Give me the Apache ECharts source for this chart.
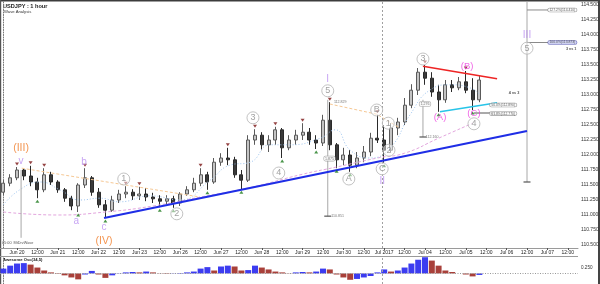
<!DOCTYPE html>
<html>
<head>
<meta charset="utf-8">
<script src="https://cdn.jsdelivr.net/npm/echarts@6/dist/echarts.min.js"></script>
<style>
html, body { margin: 0; padding: 0; background: #fff; }
#chart { width: 600px; height: 284px; }
</style>
</head>
<body>
<div id="chart"></div>
<script>
// time axis: 4-hour slots, 6 per trading day
const days = ['Jun 20', 'Jun 21', 'Jun 22', 'Jun 23', 'Jun 26', 'Jun 27', 'Jun 28', 'Jun 29', 'Jun 30', 'Jul 2017', 'Jul 04', 'Jul 05', 'Jul 06', 'Jul 07'];
const slotCount = 85;
const firstDaySlot = 2;

// USDJPY 4h bars: [open, close, low, high]
const candles = [
  [111.38, 111.53, 111.33, 111.58], [111.53, 111.62, 111.48, 111.68], [111.62, 111.75, 111.58, 111.80],
  [111.75, 111.65, 111.58, 111.78], [111.65, 111.55, 111.48, 111.82], [111.55, 111.42, 111.28, 111.62],
  [111.42, 111.67, 111.38, 111.78], [111.67, 111.55, 111.50, 111.72], [111.55, 111.42, 111.37, 111.58],
  [111.42, 111.28, 111.22, 111.45], [111.28, 111.15, 111.08, 111.32], [111.15, 111.50, 111.05, 111.53],
  [111.50, 111.62, 111.45, 111.78], [111.62, 111.38, 111.32, 111.65], [111.38, 111.17, 111.12, 111.45],
  [111.17, 111.08, 110.95, 111.25], [111.08, 111.25, 111.05, 111.32], [111.25, 111.35, 111.20, 111.42],
  [111.35, 111.38, 111.28, 111.48], [111.38, 111.32, 111.25, 111.43], [111.32, 111.35, 111.25, 111.47],
  [111.35, 111.30, 111.23, 111.45], [111.30, 111.27, 111.20, 111.37], [111.27, 111.23, 111.13, 111.33],
  [111.23, 111.27, 111.18, 111.33], [111.27, 111.20, 111.12, 111.32], [111.20, 111.35, 111.15, 111.38],
  [111.35, 111.42, 111.32, 111.48], [111.42, 111.53, 111.38, 111.62], [111.53, 111.67, 111.48, 111.78],
  [111.67, 111.55, 111.42, 111.72], [111.55, 111.88, 111.52, 111.95], [111.88, 111.95, 111.82, 112.03],
  [111.95, 111.92, 111.83, 112.12], [111.92, 111.67, 111.62, 111.97], [111.67, 111.58, 111.43, 111.75],
  [111.58, 112.25, 111.55, 112.33], [112.25, 112.33, 112.17, 112.43], [112.33, 112.17, 112.08, 112.38],
  [112.17, 112.25, 112.05, 112.33], [112.25, 112.42, 112.17, 112.47], [112.42, 112.12, 111.95, 112.45],
  [112.12, 112.25, 112.08, 112.33], [112.25, 112.33, 112.17, 112.42], [112.33, 112.38, 112.25, 112.53],
  [112.38, 112.25, 112.17, 112.45], [112.25, 112.20, 112.10, 112.33], [112.20, 112.58, 112.15, 112.67],
  [112.58, 112.17, 112.08, 112.88], [112.17, 111.92, 111.78, 112.20], [111.92, 112.00, 111.83, 112.12],
  [112.00, 111.83, 111.72, 112.08], [111.83, 111.95, 111.78, 112.05], [111.95, 112.05, 111.88, 112.15],
  [112.05, 112.28, 111.98, 112.37], [112.28, 112.25, 112.20, 112.67], [112.25, 112.08, 111.87, 112.50],
  [112.08, 112.45, 112.05, 112.53], [112.45, 112.55, 112.33, 112.62], [112.55, 112.83, 112.50, 112.95],
  [112.83, 113.08, 112.78, 113.18], [113.08, 113.38, 113.00, 113.45], [113.38, 113.28, 113.17, 113.50],
  [113.28, 113.05, 112.97, 113.38], [113.05, 112.92, 112.72, 113.17], [112.92, 113.17, 112.87, 113.25],
  [113.17, 113.12, 113.05, 113.25], [113.12, 113.22, 113.08, 113.30], [113.22, 113.08, 113.03, 113.40],
  [113.08, 112.92, 112.75, 113.28], [112.92, 113.25, 112.88, 113.32]
];

// Awesome Osc(34,5), one value per slot
const ao = [
  0.23, 0.37, 0.47, 0.49, 0.42, 0.28, 0.14, 0.05, -0.02, -0.09,
  -0.19, -0.28, -0.05, 0.12, -0.05, -0.21, -0.09, 0.01, 0.05, 0.07,
  0.05, 0.09, 0.05, 0.01, -0.02, 0.01, 0.02, 0.05, 0.09, 0.23,
  0.30, 0.14, 0.33, 0.37, 0.33, 0.14, 0.16, 0.37, 0.28, 0.19,
  0.09, 0.05, 0.01, 0.05, 0.07, 0.05, 0.09, 0.23, 0.19, -0.05,
  -0.19, -0.30, -0.26, -0.19, -0.12, 0.05, 0.19, 0.09, 0.14, 0.28,
  0.47, 0.65, 0.77, 0.61, 0.37, 0.14, 0.07, 0.00, -0.05, -0.14, -0.07
];

// fractal markers (slot index of the bar)
const swingHighs = [2, 4, 6, 12, 18, 20, 29, 33, 37, 40, 44, 48, 55, 62, 68];
const swingLows = [5, 11, 15, 23, 25, 30, 35, 41, 46, 49, 51, 56, 64, 69];

// drawn lines, [slot, price]
const supportLine = [[14.8, 110.95], [77, 112.40]];
const redLine = [[61.7, 113.48], [72.6, 113.27]];
const cyanLine = [[64.2, 112.72], [72.6, 112.87]];
const cLevel = [[69.2, 112.70], [72.3, 112.70]];
const peakLine = [[2.7, 111.78], [28.9, 111.30]];
const peakLine2 = [[48.0, 112.85], [54.9, 112.68], [58.3, 112.45]];
const slowMA = [[0, 111.05], [8, 111.0], [15, 111.05], [22, 111.15], [29, 111.30], [36, 111.45], [44, 111.68], [49, 111.80], [55, 111.95], [59, 112.03], [64, 112.28], [69, 112.53]];
const fastMA = [[0, 111.17], [2.4, 111.42], [5.4, 111.55], [8.3, 111.42], [11.3, 111.25], [14.2, 111.28], [17.1, 111.22], [21.6, 111.32], [26, 111.25], [30.4, 111.58], [33.3, 111.83], [36.3, 111.88], [39.2, 112.17], [42.2, 112.17], [46.6, 112.28], [48.8, 112.42], [51, 112.08], [53.9, 111.95], [56.9, 112.12], [59.8, 112.67], [62.7, 113.08], [65.7, 113.17], [68.6, 113.12], [70.1, 113.0]];

// projection tool: [slot, from price, to price]
const projections = [[2.6, 111.75, 110.62], [47.7, 112.92, 110.98], [61.7, 112.92, 112.30], [77, 114.58, 111.55]];
const fibLevels = [[77, 80.1, 114.417], [77, 80.1, 113.875]];
const separatorSlot = 55.7;

// wave labels [slot, price, text]
const circled = [[17.7, 111.6, '1'], [25.5, 111.02, '2'], [36.7, 112.62, '3'], [40.5, 111.7, '4'], [47.7, 113.07, '5'],
  [50.8, 111.6, 'A'], [54.9, 112.75, 'B'], [55.7, 111.77, 'C'], [56.6, 112.53, '1'], [56.7, 112.08, '2'],
  [61.7, 113.6, '3'], [69.2, 112.52, '4'], [77, 113.78, '5']];
const purpleLabels = [[2.6, 111.9, 'v'], [11.85, 111.88, 'b'], [10.7, 110.9, 'a'], [14.8, 110.8, 'c'], [47.7, 113.27, 'I'], [55.7, 111.57, 'II'], [77, 114.0, 'III']];
const orangeLabels = [[2.6, 112.12, '(III)'], [14.8, 110.57, '(IV)']];
const magentaLabels = [[64.2, 112.63, '(A)'], [68.2, 113.47, '(B)'], [69.2, 112.7, '(C)']];

// small notes [slot, price, text]
const boxNotes = [[47.96, 111.94, '1.875'], [62.0, 112.85, '1.276']];
const plainNotes = [[48.2, 110.98, '110.851'], [62.1, 112.30, '112.160'], [48.6, 112.88, '112.829']];
const fibNotes = [[82.2, 114.417, '127.2%(114.410)'], [82.2, 113.875, '100.0%(113.873)'], [73.5, 112.833, '50.0%(112.890)'], [73.5, 112.69, '61.8%(112.770)']];
const ratioNotes = [[83.5, 113.767, '3 vs 1'], [75.1, 113.033, '4 vs 3']];

// price tags on the right axis
const priceTags = [113.383, 113.250, 113.133, 112.817, 112.567];
const tagColors = [['#cdeff6', '#4aa6c0'], ['#c9cbf4', '#4a4ab0'], ['#ffffff', '#888'], ['#f5c6c2', '#c04040'], ['#ffffff', '#888']];

const FONT = 'Liberation Sans';
const upBlue = '#3c3cf0';
const downRed = '#a8403a';

const cats = [];
for (let k = 0; k < slotCount; k++) {
  const s = k - firstDaySlot;
  if (s < 0) { cats.push('Jun 19 ' + (24 + s * 4) + ':00'); continue; }
  const d = Math.floor(s / 6), h = (s % 6) * 4;
  cats.push(h === 0 ? days[d] : (h < 10 ? '0' + h : h) + ':00');
}
const showTick = (i) => i >= firstDaySlot && (i - firstDaySlot) % 3 === 0;

function lineSeries(data, color, width, type, smooth) {
  return {
    type: 'line', xAxisIndex: 1, yAxisIndex: 0, data: data, symbol: 'none', smooth: !!smooth,
    lineStyle: { color: color, width: width, type: type || 'solid' }, z: 4, silent: true
  };
}

function textSeries(items, label, z) {
  return {
    type: 'scatter', xAxisIndex: 1, yAxisIndex: 0, symbolSize: 0, silent: true, z: z || 6,
    data: items.map(d => ({ value: [d[0], d[1]], name: d[2] })),
    label: Object.assign({ show: true, position: 'inside', formatter: p => p.name, fontFamily: FONT }, label)
  };
}

const series = [];

series.push({
  type: 'candlestick', xAxisIndex: 0, yAxisIndex: 0, data: candles, barWidth: 3.4, z: 3,
  itemStyle: { color: '#c4c4c4', color0: '#3a3a3a', borderColor: '#5a5a5a', borderColor0: '#2a2a2a', borderWidth: 1 },
  markLine: {
    symbol: 'none', silent: true, animation: false,
    lineStyle: { opacity: 0 },
    data: priceTags.map((v, i) => ({
      yAxis: v,
      label: {
        show: true, position: 'end', distance: 1, formatter: v.toFixed(3),
        fontSize: 4.6, fontFamily: FONT, color: '#222',
        backgroundColor: tagColors[i][0], borderColor: tagColors[i][1], borderWidth: 0.6,
        borderRadius: 2, padding: [0.5, 1.5, 0, 1.5]
      }
    }))
  }
});

series.push({
  type: 'scatter', xAxisIndex: 0, yAxisIndex: 0, z: 5, silent: true,
  data: swingHighs.map(i => [i, candles[i][3]]),
  symbol: 'triangle', symbolRotate: 180, symbolSize: [4, 3], symbolOffset: [0, -3],
  itemStyle: { color: '#7a1414' }
});
series.push({
  type: 'scatter', xAxisIndex: 0, yAxisIndex: 0, z: 5, silent: true,
  data: swingLows.map(i => [i, candles[i][2]]),
  symbol: 'triangle', symbolSize: [4, 3], symbolOffset: [0, 3],
  itemStyle: { color: '#1d7a1d' }
});

series.push(lineSeries(slowMA, '#e3a6de', 1, [3, 2], true));
series.push(lineSeries(fastMA, '#9cc4f0', 1, [1, 2], true));
series.push(lineSeries(peakLine, '#f6c894', 1, [3, 2]));
series.push(lineSeries(peakLine2, '#f6c894', 1, [3, 2]));

projections.forEach(p => {
  series.push(lineSeries([[p[0], p[1]], [p[0], p[2]]], '#a8a8a8', 1));
});
series.push({
  type: 'scatter', xAxisIndex: 1, yAxisIndex: 0, silent: true, z: 5,
  data: projections.slice(1).map(p => [p[0], p[2]]),
  symbol: 'rect', symbolSize: [7, 1.5], itemStyle: { color: '#555' }
});
fibLevels.forEach(f => {
  series.push(lineSeries([[f[0], f[2]], [f[1], f[2]]], '#8a8a8a', 1));
});

const support = lineSeries(supportLine, '#1f2ee6', 2.2);
support.markLine = {
  symbol: 'none', silent: true, animation: false, label: { show: false },
  lineStyle: { color: '#a0a0a0', type: [2, 2], width: 1 },
  data: [{ xAxis: separatorSlot }]
};
series.push(support);
series.push(lineSeries(redLine, '#ee2424', 1.6));
series.push(lineSeries(cyanLine, '#28c4e8', 1.6));
series.push(lineSeries(cLevel, '#555', 1));

series.push({
  type: 'scatter', xAxisIndex: 1, yAxisIndex: 0, silent: true, z: 6,
  data: circled.map(d => ({ value: [d[0], d[1]], name: d[2] })),
  symbol: 'circle', symbolSize: 12,
  itemStyle: { color: 'rgba(255,255,255,0.6)', borderColor: '#b4b4b4', borderWidth: 1 },
  label: { show: true, position: 'inside', formatter: p => p.name, fontSize: 9, color: '#8a8a8a', fontFamily: FONT }
});
series.push(textSeries(purpleLabels, { fontSize: 10, color: '#b98df0' }));
series.push(textSeries(orangeLabels, { fontSize: 10.5, color: '#f07a26' }));
series.push(textSeries(magentaLabels, { fontSize: 9.5, color: '#ec3fe0' }));
series.push(textSeries(boxNotes, {
  fontSize: 3.6, color: '#444', backgroundColor: '#fff', borderColor: '#999', borderWidth: 0.6,
  borderRadius: 1.5, padding: [0.5, 1, 0, 1]
}));
series.push(textSeries(plainNotes, { fontSize: 3.6, color: '#555', align: 'left' }));
series.push(textSeries(fibNotes, {
  fontSize: 3.4, color: '#333', backgroundColor: '#fff', borderColor: '#888', borderWidth: 0.6,
  borderRadius: 2, padding: [0.5, 1.5, 0, 1.5]
}));
series[series.length - 1].data[1].label = { backgroundColor: '#c9cdf2', borderColor: '#5a5ab0' };
series.push(textSeries(ratioNotes, { fontSize: 3.8, color: '#222', fontWeight: 'bold' }));

// Awesome oscillator panel
series.push({
  type: 'bar', xAxisIndex: 2, yAxisIndex: 1, barCategoryGap: '12%', silent: true,
  data: ao.map((v, i) => ({ value: v, itemStyle: { color: i > 0 && v < ao[i - 1] ? downRed : upBlue } })),
  markLine: {
    symbol: 'none', silent: true, animation: false,
    lineStyle: { color: '#999', type: [1, 1.5], width: 1 },
    data: [
      { yAxis: 0, label: { show: false } },
      {
        yAxis: ao[ao.length - 1], lineStyle: { opacity: 0 },
        label: {
          show: true, position: 'end', distance: 1, formatter: ao[ao.length - 1].toFixed(3),
          fontSize: 4.4, fontFamily: FONT, color: '#222', backgroundColor: '#fff', borderColor: '#666',
          borderWidth: 0.6, borderRadius: 1.5, padding: [0.5, 1, 0, 1]
        }
      },
      {
        yAxis: -0.35, lineStyle: { opacity: 0 },
        label: { show: true, position: 'end', distance: 2, formatter: '-0.350', fontSize: 4.4, fontFamily: FONT, color: '#333' }
      }
    ]
  }
});
series.push({
  type: 'line', xAxisIndex: 3, yAxisIndex: 1, data: [[separatorSlot, 0]], symbol: 'none', silent: true,
  markLine: {
    symbol: 'none', silent: true, animation: false, label: { show: false },
    lineStyle: { color: '#a0a0a0', type: [2, 2], width: 1 },
    data: [{ xAxis: separatorSlot }]
  }
});

const isQuarter = v => Math.abs(v * 4 - Math.round(v * 4)) < 1e-6;

const option = {
  animation: false,
  backgroundColor: '#fff',
  grid: [
    { left: 0, right: 22, top: 2, height: 246, outerBoundsMode: 'none' },
    { left: 0, right: 22, top: 257, height: 27, outerBoundsMode: 'none' }
  ],
  xAxis: [
    {
      type: 'category', gridIndex: 0, data: cats, boundaryGap: true,
      axisLine: { lineStyle: { color: '#9a9a9a', width: 1 } },
      axisTick: { show: true, interval: showTick, length: 2, alignWithLabel: true, lineStyle: { color: '#555' } },
      axisLabel: { interval: showTick, fontSize: 5, fontFamily: FONT, color: '#222', margin: 2 },
      splitLine: { show: false }
    },
    { type: 'value', gridIndex: 0, min: -0.5, max: slotCount - 0.5, show: false },
    {
      type: 'category', gridIndex: 1, data: cats, boundaryGap: true,
      axisLine: { show: false }, axisTick: { show: false }, axisLabel: { show: false }
    },
    { type: 'value', gridIndex: 1, min: -0.5, max: slotCount - 0.5, show: false }
  ],
  yAxis: [
    {
      type: 'value', gridIndex: 0, position: 'right', min: 110.45, max: 114.55, interval: 0.05, scale: true,
      axisLine: { show: true, lineStyle: { color: '#777', type: [1, 1.5] } },
      axisTick: { show: false },
      splitLine: { show: false },
      axisLabel: {
        fontSize: 5, fontFamily: FONT, color: '#333', margin: 3,
        formatter: v => isQuarter(v) ? v.toFixed(3) : ''
      }
    },
    {
      type: 'value', gridIndex: 1, position: 'right', min: -0.5, max: 0.78, interval: 0.25,
      axisLine: { show: true, lineStyle: { color: '#777', type: [1, 1.5] } },
      axisTick: { show: false },
      splitLine: { show: false },
      axisLabel: {
        fontSize: 4.6, fontFamily: FONT, color: '#333', margin: 3,
        formatter: v => Math.abs(v - 0.25) < 1e-6 ? '0.250' : ''
      }
    }
  ],
  graphic: [
    { type: 'rect', shape: { x: 0, y: 0, width: 600, height: 1.6 }, style: { fill: '#3c3c3c' }, silent: true },
    { type: 'rect', shape: { x: 0, y: 0, width: 1.2, height: 284 }, style: { fill: '#555' }, silent: true },
    { type: 'rect', shape: { x: 598, y: 0, width: 2, height: 284 }, style: { fill: '#444' }, silent: true },
    { type: 'line', shape: { x1: 0, y1: 256.5, x2: 578, y2: 256.5 }, style: { stroke: '#9a9a9a', lineWidth: 1 }, silent: true },
    { type: 'text', left: 3, top: 3, style: { text: 'USDJPY : 1 hour', font: 'bold 5.6px "Liberation Sans"', fill: '#222' } },
    { type: 'text', left: 4, top: 10, style: { text: 'Wave Analysis', font: '4.2px "Liberation Sans"', fill: '#333' } },
    { type: 'text', left: 2, top: 241, style: { text: '05:00  MtDrvWave', font: '3.8px "Liberation Sans"', fill: '#555' } },
    { type: 'text', left: 3, top: 258, style: { text: 'Awesome Osc(34,5)', font: 'bold 4.2px "Liberation Sans"', fill: '#222' } }
  ],
  series: series
};

const chart = echarts.init(document.getElementById('chart'), null, { renderer: 'canvas' });
chart.setOption(option);
</script>
</body>
</html>
